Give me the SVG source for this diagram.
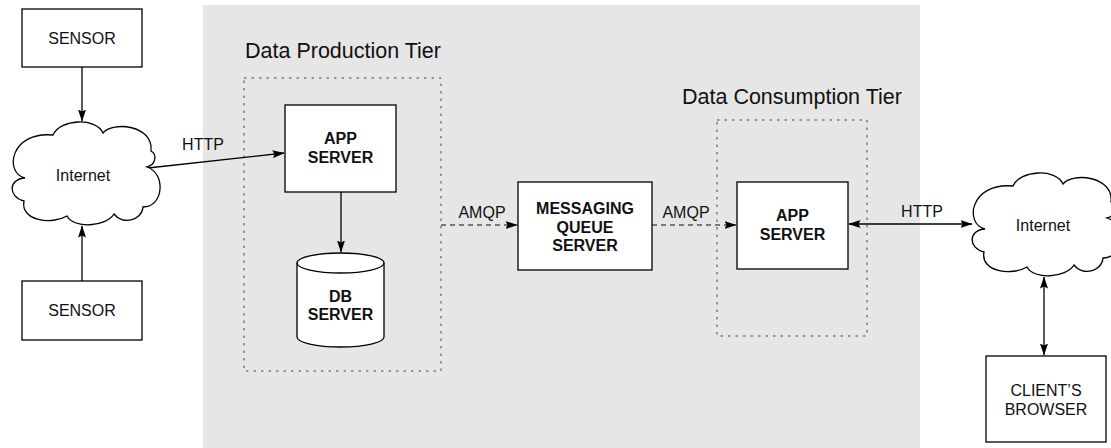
<svg xmlns="http://www.w3.org/2000/svg" width="1111" height="448" viewBox="0 0 1111 448">
  <style>
    .box { fill: #ffffff; stroke: #000000; stroke-width: 1.3; }
    .tier { fill: none; stroke: #444444; stroke-width: 1; stroke-dasharray: 2.5 5; }
    .edge { fill: none; stroke: #000000; stroke-width: 1.3; }
    .dash { fill: none; stroke: #555555; stroke-width: 1.3; stroke-dasharray: 5 4; }
    .lbl { font-family: "Liberation Sans", Arial, sans-serif; font-size: 16px; fill: #111111; text-anchor: middle; }
    .bold { font-weight: bold; }
    .title { font-family: "Liberation Sans", Arial, sans-serif; font-size: 21.5px; fill: #111111; }
  </style>
  <defs>
    <marker id="arrow" viewBox="0 0 12 10" markerWidth="12" markerHeight="10" refX="11.5" refY="5" orient="auto-start-reverse" markerUnits="userSpaceOnUse">
      <path d="M0,1 L12,5 L0,9 L2,5 Z" fill="#000000"/>
    </marker>
    <!-- cloud outline, 150 x 104 local box -->
    <path id="cloud" d="M45,14 C52,-2 88,-4 95,12 C104,0 146,4 143,30 C150,34 147,44 139,46 C158,52 156,86 135,86 C134,100 114,104 106,93 C98,106 66,108 59,95 C44,104 12,100 16,80 C0,76 0,58 17,57 C-4,52 2,10 45,14 Z" fill="#ffffff" stroke="#000000" stroke-width="1.3"/>
  </defs>

  <!-- server-side area -->
  <rect id="server-area" x="203" y="5" width="717" height="445" fill="#e6e6e6"/>

  <g id="production-tier">
    <rect class="tier" x="244" y="78" width="197" height="293"/>
    <text class="title" x="245" y="58">Data Production Tier</text>
  </g>

  <g id="consumption-tier">
    <rect class="tier" x="717" y="120" width="150" height="216"/>
    <text class="title" x="682" y="104">Data Consumption Tier</text>
  </g>

  <!-- connectors -->
  <g id="connectors">
    <line class="edge" x1="82" y1="67" x2="82" y2="121" marker-end="url(#arrow)"/>
    <line class="edge" x1="82" y1="281" x2="82" y2="226" marker-end="url(#arrow)"/>
    <line class="edge" x1="148" y1="168" x2="284" y2="153" marker-end="url(#arrow)"/>
    <text class="lbl" x="203" y="150">HTTP</text>
    <line class="edge" x1="341" y1="192" x2="341" y2="252" marker-end="url(#arrow)"/>
    <line class="dash" x1="441" y1="225" x2="517" y2="225" marker-end="url(#arrow)"/>
    <text class="lbl" x="482" y="218">AMQP</text>
    <line class="dash" x1="652" y1="225" x2="736" y2="225" marker-end="url(#arrow)"/>
    <text class="lbl" x="686" y="218">AMQP</text>
    <line class="edge" x1="849" y1="224" x2="972" y2="224" marker-start="url(#arrow)" marker-end="url(#arrow)"/>
    <text class="lbl" x="922" y="217">HTTP</text>
    <line class="edge" x1="1044" y1="277" x2="1044" y2="355" marker-start="url(#arrow)" marker-end="url(#arrow)"/>
  </g>

  <g id="sensor-1">
    <rect class="box" x="22" y="9" width="120" height="58"/>
    <text class="lbl" x="82" y="44">SENSOR</text>
  </g>

  <g id="sensor-2">
    <rect class="box" x="22" y="281" width="120" height="59"/>
    <text class="lbl" x="82" y="316">SENSOR</text>
  </g>

  <g id="internet-1">
    <use href="#cloud" transform="translate(8,121)"/>
    <text class="lbl" x="83" y="181">Internet</text>
  </g>

  <g id="app-server-1">
    <rect class="box" x="285" y="105" width="111" height="87"/>
    <text class="lbl bold" x="340.5" y="144">APP</text>
    <text class="lbl bold" x="340.5" y="163">SERVER</text>
  </g>

  <g id="db-server">
    <path class="box" d="M297,263 A43.5,10 0 0 1 384,263 V337 A43.5,10 0 0 1 297,337 Z"/>
    <path class="edge" d="M297,263 A43.5,10 0 0 0 384,263"/>
    <text class="lbl bold" x="340.5" y="302">DB</text>
    <text class="lbl bold" x="340.5" y="320">SERVER</text>
  </g>

  <g id="messaging-queue">
    <rect class="box" x="518" y="182" width="134" height="88"/>
    <text class="lbl bold" x="585" y="214">MESSAGING</text>
    <text class="lbl bold" x="585" y="233">QUEUE</text>
    <text class="lbl bold" x="585" y="251">SERVER</text>
  </g>

  <g id="app-server-2">
    <rect class="box" x="737" y="182" width="111" height="87"/>
    <text class="lbl bold" x="792.5" y="221">APP</text>
    <text class="lbl bold" x="792.5" y="240">SERVER</text>
  </g>

  <g id="internet-2">
    <use href="#cloud" transform="translate(968,172)"/>
    <text class="lbl" x="1043" y="231">Internet</text>
  </g>

  <g id="client-browser">
    <rect class="box" x="986" y="356" width="120" height="86"/>
    <text class="lbl" x="1046" y="396">CLIENT’S</text>
    <text class="lbl" x="1046" y="415">BROWSER</text>
  </g>
</svg>
